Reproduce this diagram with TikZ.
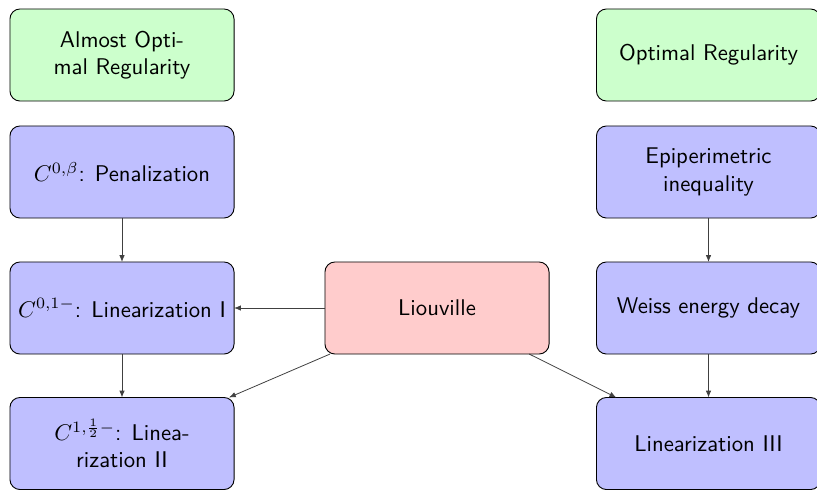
\documentclass[tikz,border=0pt]{standalone}
\usetikzlibrary{arrows.meta}
\renewcommand{\familydefault}{\sfdefault}
\begin{document}
\begin{tikzpicture}[x=0.44pt,y=-0.44pt,
  box/.style={draw=black, line width=0.4pt, rounded corners=4.4pt, minimum width=98.6pt, minimum height=40.5pt, inner sep=2pt, outer sep=0pt, align=center, font=\sffamily},
  goal/.style={box, fill=green!20},
  stepbox/.style={box, fill=blue!25},
  key/.style={box, fill=red!20},
  arr/.style={-{Latex[length=3pt,width=2.4pt]}, line width=0.35pt, draw=black!75}]
\clip (0,0) rectangle (817,489);
\useasboundingbox (0,0) rectangle (817,489);
\node[goal] (aor) at (122,55) {Almost Opti-\\mal Regularity};
\node[stepbox] (pen) at (122,172) {$C^{0,\beta}$: Penalization};
\node[stepbox] (lin1) at (122,308) {$C^{0,1-}$: Linearization I};
\node[stepbox] (lin2) at (122,443.5) {$C^{1,\frac{1}{2}-}$: Linea-\\rization II};
\node[key] (liou) at (437,308) {Liouville};
\node[goal] (opt) at (708.5,55) {Optimal Regularity};
\node[stepbox] (epi) at (708.5,172) {Epiperimetric\\inequality};
\node[stepbox] (weiss) at (708.5,308) {Weiss energy decay};
\node[stepbox] (lin3) at (708.5,443.5) {Linearization III};
\draw[arr] (pen) -- (lin1);
\draw[arr] (lin1) -- (lin2);
\draw[arr] (liou) -- (lin1);
\draw[arr] (liou) -- (lin2);
\draw[arr] (liou) -- (lin3);
\draw[arr] (epi) -- (weiss);
\draw[arr] (weiss) -- (lin3);
\end{tikzpicture}
\end{document}
